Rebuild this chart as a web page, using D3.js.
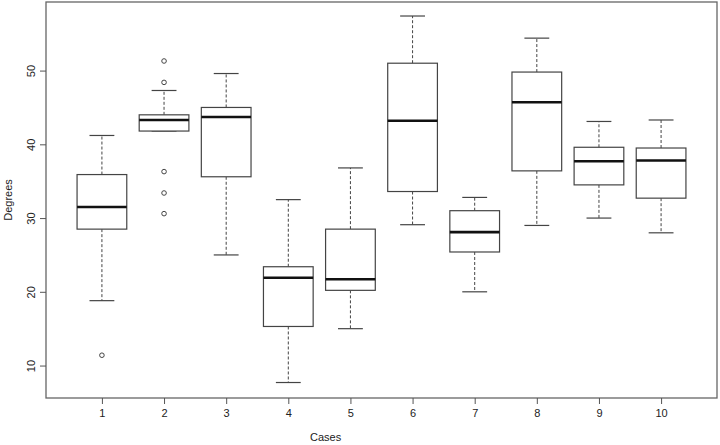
<!DOCTYPE html>
<html>
<head>
<meta charset="utf-8">
<script src="https://cdn.jsdelivr.net/npm/d3@7"></script>
<style>
  body { margin: 0; background: #fff; }
  text { font-family: "Liberation Sans", Arial, sans-serif; fill: #222; }
</style>
</head>
<body>
<div id="chart"></div>
<script>
// box statistics
const cases       = [1, 2, 3, 4, 5, 6, 7, 8, 9, 10];
const whiskerLow  = [18.8, 41.8, 25.0, 7.7, 15.0, 29.1, 20.0, 29.0, 30.0, 28.0];
const q1          = [28.5, 41.8, 35.6, 15.3, 20.2, 33.6, 25.4, 36.4, 34.5, 32.7];
const medians     = [31.5, 43.3, 43.7, 21.9, 21.7, 43.2, 28.1, 45.7, 37.7, 37.8];
const q3          = [35.9, 44.0, 45.0, 23.4, 28.5, 51.0, 31.0, 49.8, 39.6, 39.5];
const whiskerHigh = [41.2, 47.3, 49.6, 32.5, 36.8, 57.4, 32.8, 54.4, 43.1, 43.3];
const outliers    = [[11.4], [51.3, 48.4, 36.3, 33.4, 30.6], [], [], [], [], [], [], [], []];
const yTicks      = [10, 20, 30, 40, 50];

const width = 720, height = 445;
const margin = {top: 2, right: 3, bottom: 47, left: 46};
const innerW = width - margin.left - margin.right;
const innerH = height - margin.top - margin.bottom;

const svg = d3.select("#chart").append("svg")
    .attr("width", width)
    .attr("height", height);

const g = svg.append("g")
    .attr("transform", "translate(" + margin.left + "," + margin.top + ")");

// R style extents: xlim 0.5..10.5 and ylim padded by 4%
const x = d3.scaleLinear().domain([0.1, 10.9]).range([0, innerW]);
const y = d3.scaleLinear().domain([5.6, 59.3]).range([innerH, 0]);

const boxW = x(1.8) - x(1);
const capW = boxW / 2;

const data = cases.map((c, i) => ({
    c: c, lo: whiskerLow[i], q1: q1[i], med: medians[i],
    q3: q3[i], hi: whiskerHigh[i], out: outliers[i]
}));

// frame
g.append("rect")
    .attr("x", 0).attr("y", 0)
    .attr("width", innerW).attr("height", innerH)
    .attr("fill", "none")
    .attr("stroke", "#666")
    .attr("stroke-width", 1.3);

// axes
const xAxis = g.append("g")
    .attr("transform", "translate(0," + innerH + ")")
    .call(d3.axisBottom(x).tickValues(cases).tickSize(6).tickPadding(5).tickFormat(d3.format("d")));
xAxis.select(".domain").remove();

const yAxis = g.append("g")
    .call(d3.axisLeft(y).tickValues(yTicks).tickSize(6).tickFormat(d3.format("d")));
yAxis.select(".domain").remove();
// rotated labels like R's las=0
yAxis.selectAll(".tick text")
    .attr("transform", "rotate(-90)")
    .attr("x", 0)
    .attr("y", -15)
    .attr("dy", "0.35em")
    .style("text-anchor", "middle");

[xAxis, yAxis].forEach(a => {
    a.selectAll("line").attr("stroke", "#555");
    a.selectAll("text").style("font-size", "11px").attr("fill", "#222");
});

const boxes = g.selectAll(".box").data(data).enter()
    .append("g").attr("class", "box");

// whiskers
boxes.append("line")
    .attr("x1", d => x(d.c)).attr("x2", d => x(d.c))
    .attr("y1", d => y(d.q3)).attr("y2", d => y(d.hi))
    .attr("stroke", "#444").attr("stroke-dasharray", "3,2");
boxes.append("line")
    .attr("x1", d => x(d.c)).attr("x2", d => x(d.c))
    .attr("y1", d => y(d.q1)).attr("y2", d => y(d.lo))
    .attr("stroke", "#444").attr("stroke-dasharray", "3,2");

// caps
boxes.append("line")
    .attr("x1", d => x(d.c) - capW / 2).attr("x2", d => x(d.c) + capW / 2)
    .attr("y1", d => y(d.hi)).attr("y2", d => y(d.hi))
    .attr("stroke", "#444").attr("stroke-width", 1.2);
boxes.append("line")
    .attr("x1", d => x(d.c) - capW / 2).attr("x2", d => x(d.c) + capW / 2)
    .attr("y1", d => y(d.lo)).attr("y2", d => y(d.lo))
    .attr("stroke", "#444").attr("stroke-width", 1.2);

// box
boxes.append("rect")
    .attr("x", d => x(d.c) - boxW / 2)
    .attr("y", d => y(d.q3))
    .attr("width", boxW)
    .attr("height", d => y(d.q1) - y(d.q3))
    .attr("fill", "#fff")
    .attr("stroke", "#444")
    .attr("stroke-width", 1.2);

// median
boxes.append("line")
    .attr("x1", d => x(d.c) - boxW / 2).attr("x2", d => x(d.c) + boxW / 2)
    .attr("y1", d => y(d.med)).attr("y2", d => y(d.med))
    .attr("stroke", "#111").attr("stroke-width", 2.6);

// outliers
boxes.selectAll(".out")
    .data(d => d.out.map(v => ({c: d.c, v: v})))
    .enter().append("circle")
    .attr("class", "out")
    .attr("cx", d => x(d.c))
    .attr("cy", d => y(d.v))
    .attr("r", 2.3)
    .attr("fill", "none")
    .attr("stroke", "#444")
    .attr("stroke-width", 1);

// axis titles
svg.append("text")
    .attr("x", margin.left + x(4.6))
    .attr("y", 441)
    .attr("text-anchor", "middle")
    .style("font-size", "11px")
    .text("Cases");

svg.append("text")
    .attr("transform", "translate(12," + (margin.top + innerH / 2) + ") rotate(-90)")
    .attr("text-anchor", "middle")
    .style("font-size", "11px")
    .text("Degrees");
</script>
</body>
</html>
